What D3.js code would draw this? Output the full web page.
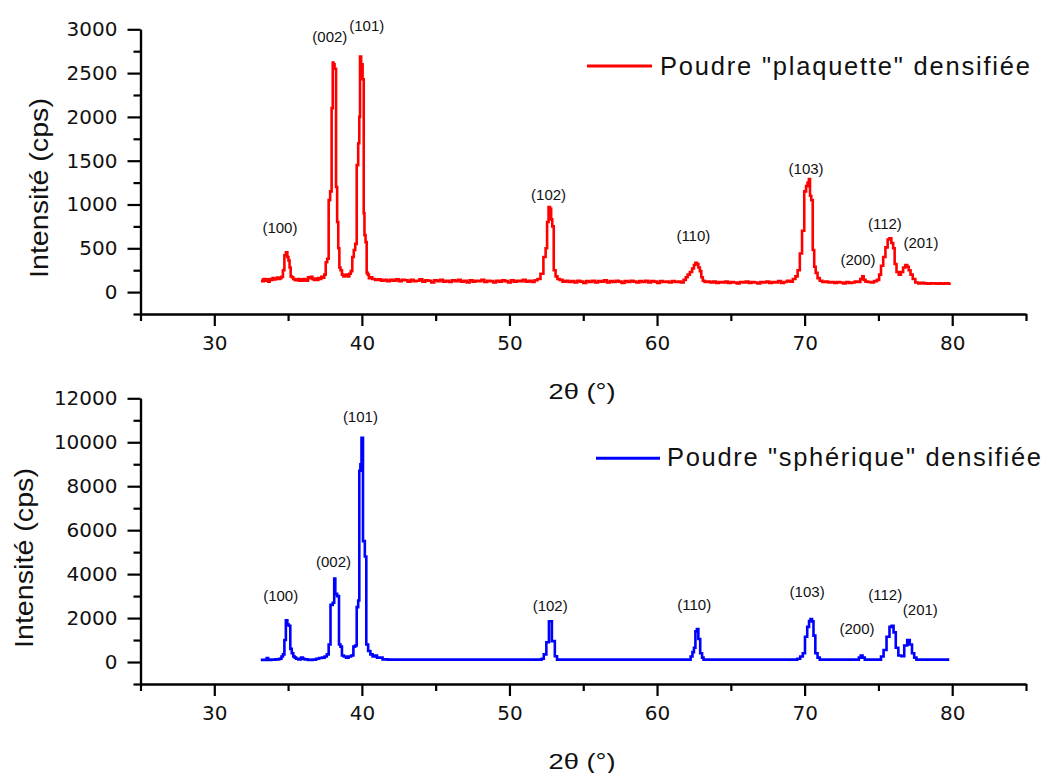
<!DOCTYPE html>
<html>
<head>
<meta charset="utf-8">
<script src="https://cdn.jsdelivr.net/npm/d3@7"></script>
<style>
  html, body { margin: 0; padding: 0; background: #fff; }
  svg { display: block; }
</style>
</head>
<body>
<svg id="chart" width="1043" height="773"></svg>
<script>
// ---------------- DATA ----------------
const xTicks = [30, 40, 50, 60, 70, 80];
const xMinorTicks = [25, 35, 45, 55, 65, 75, 85];
const yTicksTop = [0, 500, 1000, 1500, 2000, 2500, 3000];
const yMinorTop = [-250, 250, 750, 1250, 1750, 2250, 2750];
const yTicksBottom = [0, 2000, 4000, 6000, 8000, 10000, 12000];
const yMinorBottom = [-1000, 1000, 3000, 5000, 7000, 9000, 11000];

const xTitle = "2\u03B8 (\u00B0)";
const yTitle = "Intensit\u00E9 (cps)";
const legendTop = "Poudre \"plaquette\" densifi\u00E9e";
const legendBottom = "Poudre \"sph\u00E9rique\" densifi\u00E9e";

// Poudre "plaquette" densifiée : [2θ, intensité]
const plaquette = [
 [33.2,140],[33.3,125],[33.4,150],[33.5,130],[33.6,145],[33.7,120],[33.8,150],[33.9,140],[34.0,160],
 [34.1,145],[34.2,150],[34.3,165],[34.4,150],[34.5,160],[34.6,175],[34.7,250],[34.8,420],[34.9,455],
 [35.0,400],[35.05,360],[35.15,280],[35.2,180],[35.3,170],[35.4,150],[35.5,140],[35.6,135],[35.7,150],
 [35.8,130],[35.9,145],[36.0,130],[36.1,150],[36.2,140],[36.3,130],[36.4,170],[36.5,160],[36.6,175],
 [36.7,150],[36.8,140],[36.9,155],[37.0,140],[37.1,160],[37.2,150],[37.3,175],[37.4,165],[37.5,200],
 [37.6,340],[37.7,380],[37.8,1050],[37.9,1150],[38.0,2100],[38.05,2620],[38.1,2600],[38.2,2550],
 [38.3,1200],[38.35,800],[38.45,500],[38.5,280],[38.6,250],[38.7,200],[38.8,180],[38.9,190],[39.0,200],
 [39.1,180],[39.2,210],[39.3,240],[39.4,400],[39.5,480],[39.6,550],[39.7,1450],[39.8,1700],[39.85,2000],
 [39.9,2690],[40.0,2600],[40.1,2430],[40.15,900],[40.2,650],[40.3,570],[40.35,220],[40.45,200],
 [40.5,160],[40.6,170],[40.8,150],[41.0,140],[41.2,145],[41.4,130],[41.6,140],[41.8,125],[42.0,140],
 [42.2,130],[42.4,145],[42.6,125],[42.8,140],[43.0,135],[43.2,120],[43.4,140],[43.6,125],[43.8,130],
 [44.0,145],[44.2,120],[44.4,135],[44.6,130],[44.8,110],[45.0,135],[45.2,125],[45.4,140],[45.6,120],
 [45.8,130],[46.0,115],[46.2,135],[46.4,125],[46.6,140],[46.8,120],[47.0,130],[47.2,110],[47.4,135],
 [47.6,120],[47.8,130],[48.0,125],[48.2,140],[48.4,115],[48.6,130],[48.8,125],[49.0,110],[49.2,130],
 [49.4,120],[49.6,135],[49.8,125],[50.0,110],[50.2,135],[50.4,120],[50.6,130],[50.8,125],[51.0,140],
 [51.2,120],[51.4,130],[51.6,115],[51.8,135],[52.0,150],[52.2,210],[52.4,400],[52.5,500],[52.6,800],
 [52.7,970],[52.8,950],[52.85,830],[52.95,750],[53.05,250],[53.2,180],[53.3,150],[53.5,140],[53.7,120],
 [53.9,130],[54.1,115],[54.3,125],[54.5,110],[54.7,130],[54.9,120],[55.1,105],[55.3,125],[55.5,115],
 [55.7,130],[55.9,110],[56.1,125],[56.3,120],[56.5,135],[56.7,110],[56.9,125],[57.1,115],[57.3,130],
 [57.5,120],[57.7,105],[57.9,125],[58.1,115],[58.3,130],[58.5,120],[58.7,110],[58.9,125],[59.1,115],
 [59.3,130],[59.5,110],[59.7,125],[59.9,120],[60.1,105],[60.3,125],[60.5,115],[60.7,120],[60.9,110],
 [61.1,125],[61.3,115],[61.5,120],[61.7,110],[61.9,140],[62.0,170],[62.15,200],[62.3,230],[62.45,270],
 [62.55,310],[62.65,335],[62.75,320],[62.85,280],[62.95,240],[63.05,170],[63.15,130],[63.3,115],
 [63.5,120],[63.7,110],[63.9,120],[64.1,105],[64.3,115],[64.5,110],[64.7,120],[64.9,105],[65.1,115],
 [65.3,110],[65.5,100],[65.7,115],[65.9,110],[66.1,120],[66.3,105],[66.5,115],[66.7,110],[66.9,100],
 [67.1,115],[67.3,110],[67.5,120],[67.7,105],[67.9,115],[68.1,110],[68.3,125],[68.5,105],[68.7,115],
 [68.9,130],[69.1,120],[69.3,150],[69.45,180],[69.6,250],[69.75,440],[69.9,700],[70.05,1150],
 [70.15,1210],[70.25,1250],[70.33,1290],[70.4,1100],[70.5,1050],[70.6,480],[70.7,290],[70.8,220],
 [70.95,160],[71.1,130],[71.3,115],[71.5,120],[71.7,110],[71.9,115],[72.1,105],[72.3,115],[72.5,110],
 [72.7,100],[72.9,115],[73.1,105],[73.3,110],[73.5,120],[73.7,115],[73.85,150],[73.95,180],[74.05,140],
 [74.2,120],[74.4,115],[74.6,110],[74.8,125],[75.0,140],[75.1,200],[75.25,300],[75.4,400],[75.55,510],
 [75.7,600],[75.8,615],[75.95,560],[76.05,500],[76.15,320],[76.3,230],[76.45,200],[76.6,230],[76.75,280],
 [76.9,310],[77.0,290],[77.1,250],[77.25,200],[77.4,150],[77.6,110],[77.8,100],[78.0,105],[78.2,100],
 [78.4,95],[78.6,100],[78.8,100],[79.0,95],[79.2,100],[79.4,95],[79.6,100],[79.9,95]
];

// Poudre "sphérique" densifiée : [2θ, intensité]
const spherique = [
 [33.15,100],[33.5,100],[33.6,180],[33.7,100],[34.0,110],[34.3,120],[34.5,150],[34.6,250],[34.7,350],
 [34.8,1000],[34.9,1900],[35.0,1700],[35.1,1650],[35.2,600],[35.3,400],[35.4,250],[35.5,200],[35.6,150],
 [35.8,120],[35.95,200],[36.05,150],[36.2,120],[36.5,100],[36.8,110],[37.0,150],[37.2,180],[37.4,200],
 [37.55,250],[37.7,350],[37.8,800],[37.95,2600],[38.1,2700],[38.15,3800],[38.25,3100],[38.4,3000],
 [38.5,800],[38.6,700],[38.7,300],[38.85,250],[39.0,200],[39.2,250],[39.35,300],[39.5,700],[39.6,750],
 [39.7,2500],[39.8,2800],[39.85,8700],[39.95,9000],[40.0,10200],[40.15,5500],[40.25,4800],[40.35,800],
 [40.5,500],[40.65,350],[40.8,250],[40.95,300],[41.1,200],[41.3,200],[41.5,120],[42.0,110],[45.0,110],
 [50.0,110],[52.1,110],[52.25,150],[52.4,350],[52.6,900],[52.75,1850],[53.0,950],[53.15,260],[53.3,110],
 [56.0,110],[60.0,110],[62.2,110],[62.35,250],[62.45,450],[62.55,650],[62.65,1400],[62.75,1500],
 [62.85,1050],[63.0,400],[63.1,200],[63.2,110],[66.0,110],[69.4,110],[69.6,150],[69.8,250],[69.95,400],
 [70.1,1150],[70.25,1600],[70.35,1860],[70.45,1950],[70.55,1850],[70.65,1200],[70.8,400],[70.95,200],
 [71.1,110],[73.6,110],[73.75,200],[73.85,300],[74.0,200],[74.15,110],[75.1,110],[75.25,250],[75.45,550],
 [75.65,1150],[75.85,1600],[75.95,1650],[76.1,1350],[76.25,650],[76.45,300],[76.65,260],[76.85,750],
 [77.05,1000],[77.2,800],[77.35,400],[77.5,200],[77.65,110],[79.8,110]
];

// Miller indices labels: [text, 2θ, intensity]
const hklTop = [
 ["(100)",34.45,676],["(002)",37.83,2855],["(101)",40.33,2980],["(102)",52.65,1053],
 ["(110)",62.46,585],["(103)",70.1,1349],["(200)",73.62,311],["(112)",75.44,722],["(201)",77.88,505]
];
const hklBottom = [
 ["(100)",34.5,2755],["(002)",38.08,4343],["(101)",39.9,10924],["(102)",52.76,2301],
 ["(110)",62.52,2346],["(103)",70.17,2936],["(200)",73.55,1257],["(112)",75.46,2800],["(201)",77.84,2119]
];

// ---------------- DRAW ----------------
const svg = d3.select("#chart");
const FONT = "'Liberation Sans', Arial, sans-serif";

const x = d3.scaleLinear().domain([25, 85]).range([140.5, 1026]);

const panels = [
  { data: plaquette, color: "#ff0000", yDomain: [-250, 3000], yRange: [314, 29.3],
    major: yTicksTop, minor: yMinorTop, labels: hklTop, legend: legendTop,
    legLine: [587, 652, 66], legText: [660, 75, 370],
    yTitlePos: [48, 188], xTitleY: 399 },
  { data: spherique, color: "#0000ff", yDomain: [-1000, 12000], yRange: [684, 398.3],
    major: yTicksBottom, minor: yMinorBottom, labels: hklBottom, legend: legendBottom,
    legLine: [596, 660, 458.3], legText: [667, 466, 374],
    yTitlePos: [33.3, 558], xTitleY: 769 }
];

panels.forEach(p => {
  const y = d3.scaleLinear().domain(p.yDomain).range(p.yRange);
  const g = svg.append("g");
  const axisY0 = p.yRange[0];

  // minor ticks
  g.append("g").attr("transform", `translate(0,${axisY0})`)
    .call(d3.axisBottom(x).tickValues(xMinorTicks).tickSize(7).tickSizeOuter(0).tickFormat(""));
  g.append("g").attr("transform", `translate(${x.range()[0]},0)`)
    .call(d3.axisLeft(y).tickValues(p.minor).tickSize(7).tickSizeOuter(0).tickFormat(""));

  // major ticks
  g.append("g").attr("transform", `translate(0,${axisY0})`)
    .call(d3.axisBottom(x).tickValues(xTicks).tickSize(12).tickSizeOuter(0).tickPadding(10).tickFormat(d3.format("d")));
  g.append("g").attr("transform", `translate(${x.range()[0]},0)`)
    .call(d3.axisLeft(y).tickValues(p.major).tickSize(13).tickSizeOuter(0).tickPadding(10).tickFormat(d3.format("d")));

  g.selectAll(".domain, .tick line").attr("stroke", "#000").attr("stroke-width", 2.2);
  g.selectAll(".tick text").attr("fill", "#111")
    .style("font-family", "'DejaVu Sans', sans-serif").style("font-size", "20px");

  // data line
  const line = d3.line().x(d => x(d[0])).y(d => y(d[1])).curve(d3.curveStep);
  g.append("path").datum(p.data)
    .attr("d", line).attr("fill", "none")
    .attr("stroke", p.color).attr("stroke-width", 2.6).attr("stroke-linejoin", "miter");

  // hkl labels
  g.selectAll(".hkl").data(p.labels).enter().append("text")
    .attr("x", d => x(d[1])).attr("y", d => y(d[2]))
    .attr("text-anchor", "middle")
    .style("font-family", FONT).style("font-size", "15px").attr("fill", "#111")
    .text(d => d[0]);

  // legend
  g.append("line").attr("x1", p.legLine[0]).attr("x2", p.legLine[1])
    .attr("y1", p.legLine[2]).attr("y2", p.legLine[2])
    .attr("stroke", p.color).attr("stroke-width", 3);
  g.append("text").attr("x", p.legText[0]).attr("y", p.legText[1])
    .attr("textLength", p.legText[2]).attr("lengthAdjust", "spacing")
    .style("font-family", FONT).style("font-size", "25.5px").attr("fill", "#111")
    .text(p.legend);

  // axis titles
  g.append("text")
    .attr("transform", `translate(${p.yTitlePos[0]},${p.yTitlePos[1]}) rotate(-90)`)
    .attr("text-anchor", "middle")
    .attr("textLength", 180).attr("lengthAdjust", "spacingAndGlyphs")
    .style("font-family", FONT).style("font-size", "25.5px").attr("fill", "#111")
    .text(yTitle);
  g.append("text")
    .attr("x", 582).attr("y", p.xTitleY)
    .attr("text-anchor", "middle")
    .attr("textLength", 67).attr("lengthAdjust", "spacingAndGlyphs")
    .style("font-family", FONT).style("font-size", "22px").attr("fill", "#111")
    .text(xTitle);
});
</script>
</body>
</html>
